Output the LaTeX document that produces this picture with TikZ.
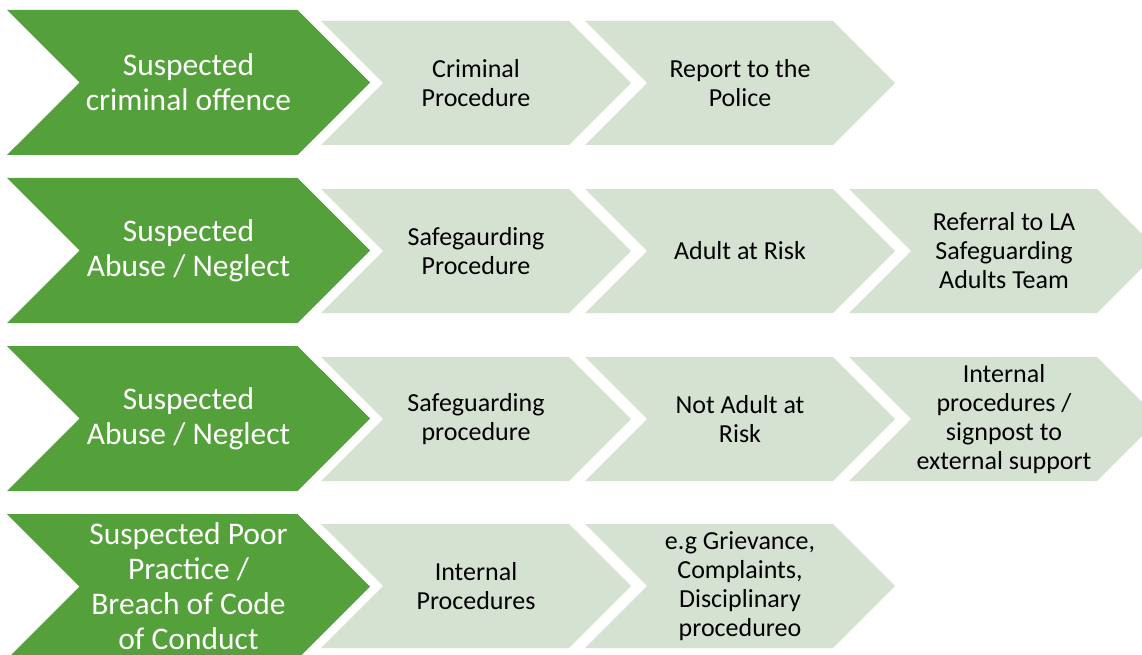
\documentclass[tikz,border=0pt]{standalone}
\usepackage{fontspec}
\setmainfont{Carlito}
\usetikzlibrary{shapes.symbols}

\definecolor{leafgreen}{RGB}{84,160,58}
\definecolor{palegreen}{RGB}{213,226,209}

\begin{document}
\begin{tikzpicture}[x=1pt,y=-1pt,
    chevron/.style={signal,signal from=west,signal to=east,signal pointer angle=90,inner sep=0pt,align=center},
    lead/.style={chevron,fill=leafgreen,text=white,minimum width=363pt,minimum height=145pt,font=\fontsize{31.5}{35}\selectfont},
    stage/.style={chevron,fill=palegreen,text=black,minimum width=310pt,minimum height=124pt,font=\fontsize{26}{29}\selectfont}]
        \useasboundingbox (0,0) rectangle (1142,655);
        \clip (0,0) rectangle (1142,655);

        % first column: what is suspected
        \node[lead] (c1) at (188.5,82.5) {Suspected\\criminal offence};
        \node[lead] (c2) at (188.5,250.5) {Suspected\\Abuse / Neglect};
        \node[lead] (c3) at (188.5,418.5) {Suspected\\Abuse / Neglect};
        \node[lead] (c4) at (188.5,586.5) {Suspected Poor\\Practice /\\Breach of Code\\of Conduct};

        % procedure followed
        \node[stage] (p1) at (476,83) {Criminal\\Procedure};
        \node[stage] (p2) at (476,251) {Safegaurding\\Procedure};
        \node[stage] (p3) at (476,419) {Safeguarding\\procedure};
        \node[stage] (p4) at (476,586) {Internal\\Procedures};

        % outcome
        \node[stage] (o1) at (740,83) {Report to the\\Police};
        \node[stage] (o2) at (740,251) {Adult at Risk};
        \node[stage] (o3) at (740,419) {Not Adult at\\Risk};
        \node[stage] (o4) at (740,586) {e.g Grievance,\\Complaints,\\Disciplinary\\procedureo};

        % referral
        \node[stage] (r2) at (1004,251) {Referral to LA\\Safeguarding\\Adults Team};
        \node[stage] (r3) at (1004,419) {Internal\\procedures /\\signpost to\\external support};
    \end{tikzpicture}
\end{document}
